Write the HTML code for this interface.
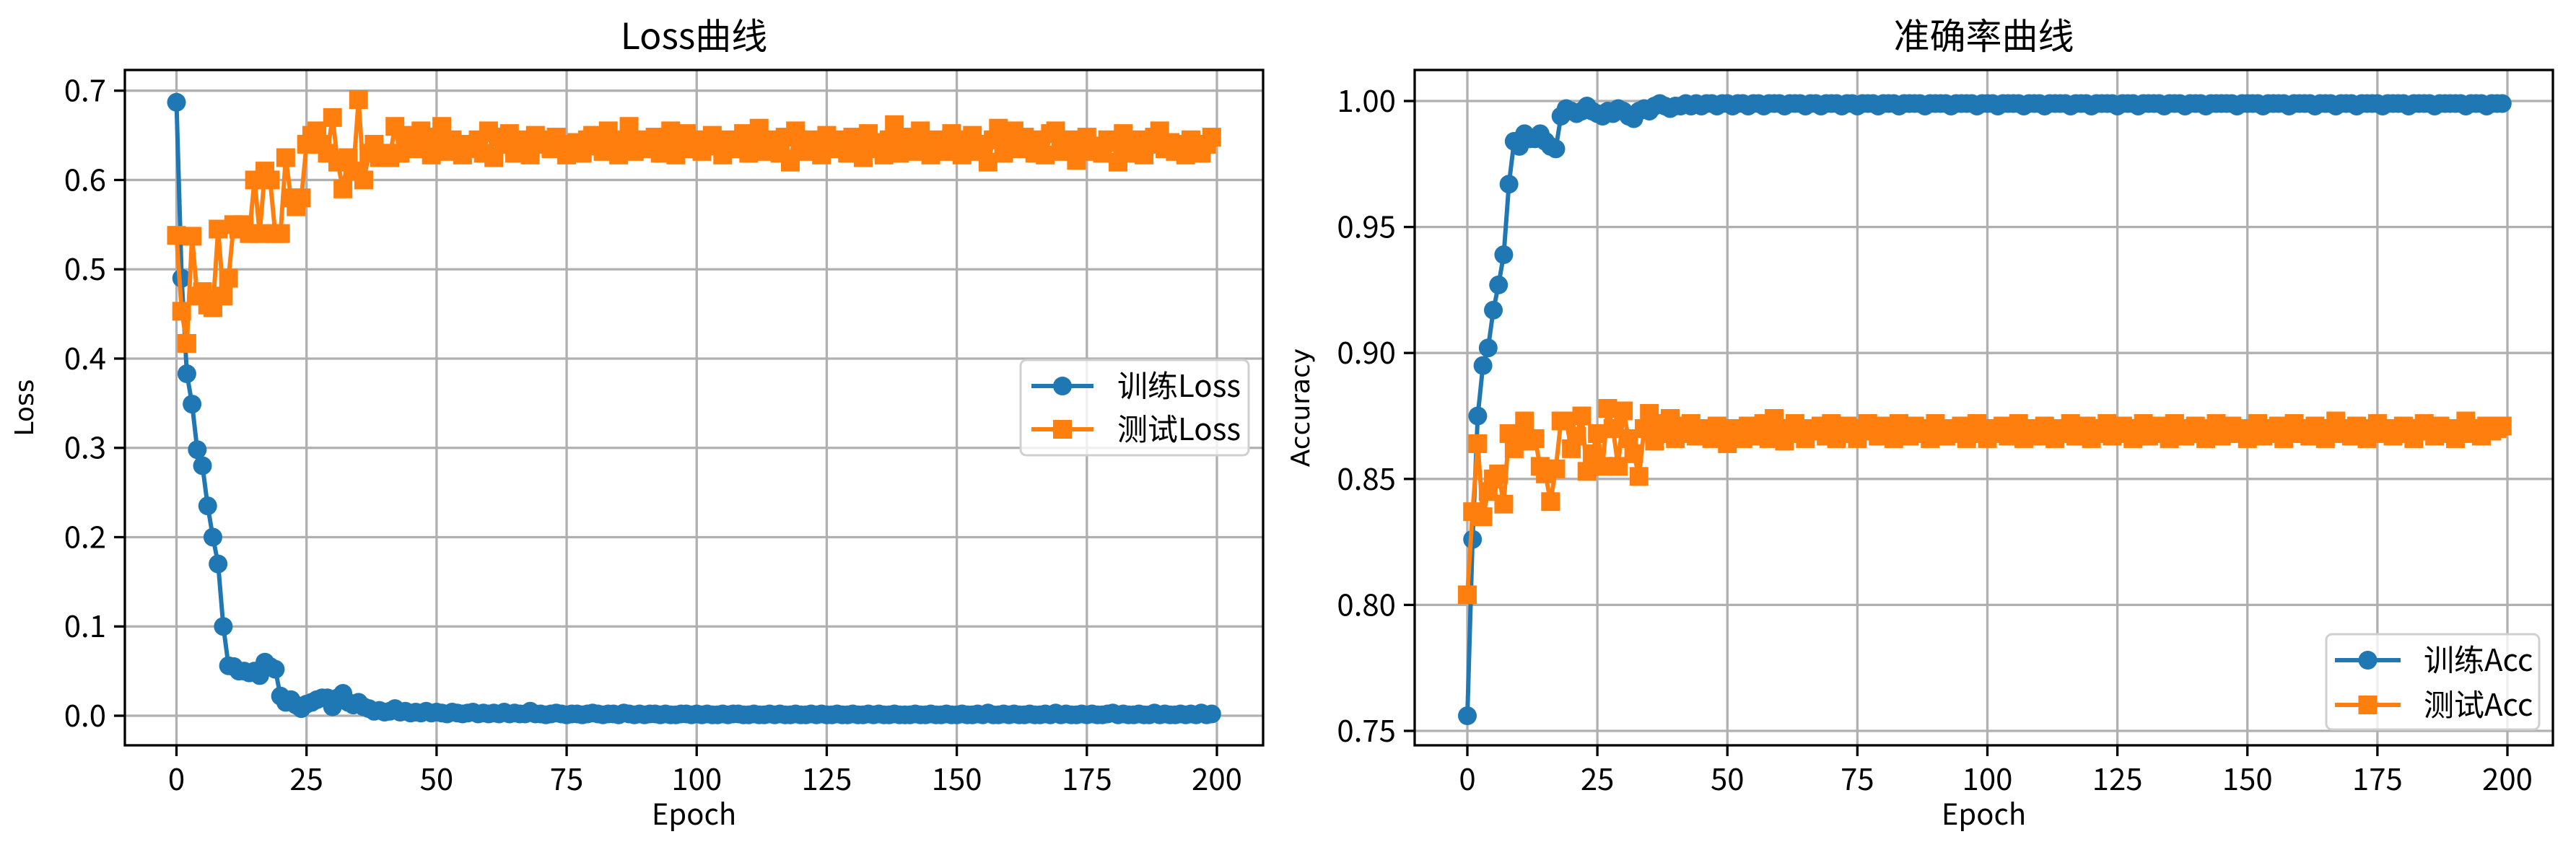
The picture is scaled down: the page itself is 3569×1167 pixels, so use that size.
<!DOCTYPE html>
<html><head><meta charset="utf-8"><style>
html,body{margin:0;padding:0;background:#fff;}
svg{display:block;font-family:"WenQuanYi Zen Hei","Noto Sans CJK SC","Liberation Sans",sans-serif;}
</style></head><body>
<svg id="fig" width="3569" height="1167" viewBox="0 0 3569 1167" xmlns="http://www.w3.org/2000/svg"></svg>
<script>
const epochs = Array.from({length:200},(_,i)=>i);
const trainLoss = [0.687,0.49,0.383,0.349,0.298,0.28,0.235,0.2,0.17,0.1,0.056,0.055,0.05,0.05,0.048,0.05,0.045,0.06,0.055,0.052,0.022,0.015,0.018,0.012,0.008,0.013,0.015,0.018,0.02,0.02,0.01,0.02,0.025,0.015,0.012,0.015,0.01,0.008,0.005,0.006,0.004,0.005,0.008,0.004,0.005,0.003,0.004,0.003,0.005,0.003,
0.004,0.003,0.002,0.004,0.003,0.002,0.003,0.004,0.002,0.003,0.002,0.003,0.002,0.004,0.002,0.003,0.002,0.002,0.005,0.002,0.002,0.001,0.002,0.003,0.002,0.001,0.002,0.002,0.001,0.002,0.003,0.002,0.001,0.002,0.002,0.001,0.003,0.002,0.001,0.002,0.001,0.002,0.002,0.001,0.002,0.001,0.001,0.002,0.002,0.001,
0.002,0.001,0.002,0.001,0.001,0.002,0.001,0.002,0.002,0.001,0.001,0.002,0.001,0.001,0.002,0.001,0.002,0.001,0.001,0.002,0.001,0.001,0.002,0.001,0.002,0.001,0.001,0.002,0.001,0.001,0.002,0.001,0.001,0.002,0.001,0.002,0.001,0.001,0.002,0.001,0.001,0.001,0.002,0.001,0.001,0.002,0.001,0.001,0.002,0.001,
0.001,0.002,0.001,0.001,0.002,0.001,0.003,0.001,0.001,0.002,0.001,0.002,0.001,0.001,0.002,0.001,0.001,0.002,0.001,0.003,0.001,0.002,0.001,0.001,0.002,0.001,0.002,0.001,0.001,0.002,0.003,0.001,0.002,0.001,0.001,0.002,0.001,0.001,0.003,0.001,0.002,0.001,0.001,0.002,0.001,0.002,0.001,0.003,0.001,0.002];
const testLoss = [0.538,0.453,0.417,0.537,0.47,0.475,0.46,0.457,0.545,0.47,0.49,0.55,0.545,0.55,0.54,0.6,0.54,0.61,0.6,0.54,0.54,0.625,0.58,0.57,0.58,0.64,0.65,0.655,0.64,0.63,0.67,0.62,0.59,0.625,0.61,0.69,0.6,0.63,0.64,0.625,0.63,0.625,0.66,0.63,0.65,0.645,0.635,0.655,0.64,0.628,
0.648,0.66,0.632,0.645,0.638,0.628,0.64,0.635,0.645,0.63,0.655,0.625,0.648,0.64,0.652,0.63,0.645,0.638,0.628,0.65,0.64,0.645,0.635,0.648,0.64,0.628,0.635,0.642,0.63,0.645,0.65,0.638,0.632,0.655,0.64,0.628,0.645,0.66,0.632,0.64,0.645,0.635,0.648,0.63,0.642,0.655,0.628,0.64,0.652,0.635,
0.645,0.632,0.64,0.65,0.638,0.628,0.645,0.64,0.635,0.652,0.63,0.645,0.658,0.632,0.64,0.645,0.63,0.648,0.62,0.655,0.64,0.632,0.645,0.638,0.628,0.65,0.642,0.635,0.645,0.63,0.648,0.64,0.625,0.652,0.635,0.642,0.628,0.645,0.662,0.63,0.648,0.64,0.632,0.655,0.638,0.628,0.645,0.64,0.632,0.652,
0.635,0.628,0.645,0.65,0.632,0.64,0.62,0.645,0.658,0.63,0.642,0.655,0.635,0.648,0.64,0.63,0.645,0.628,0.652,0.655,0.632,0.64,0.645,0.622,0.64,0.648,0.632,0.638,0.63,0.645,0.642,0.62,0.652,0.635,0.63,0.645,0.628,0.64,0.648,0.655,0.635,0.642,0.632,0.64,0.628,0.645,0.638,0.63,0.64,0.648];
const trainAcc = [0.756,0.826,0.875,0.895,0.902,0.917,0.927,0.939,0.967,0.984,0.982,0.987,0.985,0.985,0.987,0.984,0.982,0.981,0.994,0.997,0.996,0.995,0.996,0.998,0.996,0.995,0.994,0.996,0.995,0.997,0.996,0.994,0.993,0.996,0.997,0.996,0.998,0.999,0.998,0.997,0.998,0.998,0.999,0.998,0.999,0.998,0.999,0.999,0.998,0.999,
0.999,0.998,0.999,0.999,0.998,0.999,0.999,0.998,0.999,0.999,0.999,0.998,0.999,0.999,0.999,0.998,0.999,0.999,0.998,0.999,0.999,0.999,0.998,0.999,0.999,0.998,0.999,0.999,0.999,0.998,0.999,0.999,0.999,0.998,0.999,0.999,0.999,0.999,0.998,0.999,0.999,0.999,0.999,0.998,0.999,0.999,0.999,0.999,0.998,0.999,
0.999,0.999,0.998,0.999,0.999,0.999,0.999,0.998,0.999,0.999,0.999,0.998,0.999,0.999,0.999,0.999,0.998,0.999,0.999,0.999,0.998,0.999,0.999,0.999,0.999,0.998,0.999,0.999,0.999,0.998,0.999,0.999,0.999,0.999,0.998,0.999,0.999,0.999,0.998,0.999,0.999,0.999,0.998,0.999,0.999,0.999,0.999,0.999,0.998,0.999,
0.999,0.999,0.999,0.998,0.999,0.999,0.999,0.999,0.998,0.999,0.999,0.999,0.999,0.998,0.999,0.999,0.999,0.998,0.999,0.999,0.999,0.998,0.999,0.999,0.999,0.999,0.998,0.999,0.999,0.999,0.999,0.998,0.999,0.999,0.999,0.999,0.998,0.999,0.999,0.999,0.999,0.999,0.998,0.999,0.999,0.999,0.998,0.999,0.999,0.999];
const testAcc = [0.804,0.837,0.864,0.835,0.845,0.85,0.852,0.84,0.868,0.862,0.867,0.873,0.865,0.866,0.855,0.852,0.841,0.854,0.873,0.873,0.862,0.867,0.875,0.853,0.86,0.868,0.855,0.878,0.87,0.855,0.877,0.866,0.86,0.851,0.87,0.876,0.865,0.872,0.868,0.874,0.866,0.871,0.868,0.872,0.867,0.87,0.869,0.866,0.871,0.868,
0.864,0.87,0.868,0.866,0.871,0.869,0.867,0.872,0.866,0.874,0.868,0.865,0.87,0.872,0.868,0.866,0.87,0.869,0.871,0.867,0.872,0.866,0.869,0.871,0.868,0.866,0.87,0.872,0.869,0.867,0.871,0.868,0.866,0.872,0.869,0.867,0.871,0.868,0.87,0.866,0.872,0.869,0.867,0.87,0.868,0.871,0.866,0.869,0.872,0.868,
0.866,0.87,0.868,0.871,0.867,0.869,0.872,0.866,0.868,0.87,0.867,0.871,0.869,0.866,0.87,0.868,0.872,0.867,0.869,0.871,0.866,0.868,0.87,0.872,0.867,0.869,0.871,0.868,0.866,0.87,0.872,0.867,0.869,0.871,0.868,0.866,0.872,0.87,0.867,0.869,0.871,0.868,0.866,0.87,0.872,0.867,0.869,0.871,0.868,0.87,
0.866,0.869,0.872,0.867,0.87,0.868,0.871,0.866,0.869,0.872,0.868,0.87,0.867,0.871,0.869,0.866,0.87,0.873,0.868,0.87,0.867,0.871,0.869,0.866,0.87,0.872,0.868,0.87,0.867,0.869,0.871,0.868,0.866,0.87,0.872,0.869,0.867,0.871,0.868,0.87,0.866,0.869,0.873,0.868,0.87,0.867,0.871,0.869,0.87,0.871];
const lossTicksY = [0.0,0.1,0.2,0.3,0.4,0.5,0.6,0.7];
const accTicksY = [0.75,0.80,0.85,0.90,0.95,1.00];
const ticksX = [0,25,50,75,100,125,150,175,200];

const NS="http://www.w3.org/2000/svg";
const svg=document.getElementById('fig');
function mk(tag,attrs,parent){const e=document.createElementNS(NS,tag);for(const k in attrs)e.setAttribute(k,attrs[k]);(parent||svg).appendChild(e);return e;}
const BLUE="#1f77b4",ORANGE="#ff7f0e";

function panel(cfg){
  const g=mk('g',{});
  
  
  const {L,R,T,B}=cfg;
  const xs=v=>cfg.x0px+(v-0)*(cfg.x200px-cfg.x0px)/200;
  const ys=v=>cfg.ya.px+(v-cfg.ya.v)*(cfg.yb.px-cfg.ya.px)/(cfg.yb.v-cfg.ya.v);
  const clip=mk('clipPath',{id:cfg.name+'-clip'},g);
  mk('rect',{x:L,y:T,width:R-L,height:B-T},clip);
  // grid
  ticksX.forEach(t=>{const l=mk('line',{x1:xs(t),x2:xs(t),y1:T,y2:B,stroke:'#b0b0b0','stroke-width':3.3},g);
    });
  cfg.ticksY.forEach(t=>{const l=mk('line',{x1:L,x2:R,y1:ys(t),y2:ys(t),stroke:'#b0b0b0','stroke-width':3.3},g);
    });
  // series
  const sg=mk('g',{'clip-path':`url(#${cfg.name}-clip)`},g);
  cfg.series.forEach(s=>{
    const grp=mk('g',{},sg);
    
    
    const pts=epochs.map((e,i)=>xs(e).toFixed(1)+','+ys(s.data[i]).toFixed(1)).join(' ');
    mk('polyline',{points:pts,fill:'none',stroke:s.color,'stroke-width':6,'stroke-linejoin':'round'},grp);
    epochs.forEach((e,i)=>{
      let m;
      if(s.marker==='o') m=mk('circle',{cx:xs(e),cy:ys(s.data[i]),r:13,fill:s.color},grp);
      else m=mk('rect',{x:xs(e)-13,y:ys(s.data[i])-13,width:26,height:26,fill:s.color},grp);
      
      
    });
  });
  // frame
  const fr=mk('rect',{x:L,y:T,width:R-L,height:B-T,fill:'none',stroke:'#000','stroke-width':3.3},g);
  
  // ticks
  ticksX.forEach(t=>{
    mk('line',{x1:xs(t),x2:xs(t),y1:B,y2:B+15,stroke:'#000','stroke-width':3.3},g);
    const tx=mk('text',{x:xs(t),y:B+62,'text-anchor':'middle','font-size':42,fill:'#000'},g);
    tx.textContent=String(t);
    
  });
  cfg.ticksY.forEach(t=>{
    mk('line',{x1:L-15,x2:L,y1:ys(t),y2:ys(t),stroke:'#000','stroke-width':3.3},g);
    const tx=mk('text',{x:L-26,y:ys(t)+15,'text-anchor':'end','font-size':42,fill:'#000'},g);
    tx.textContent=t.toFixed(cfg.dec);
    
  });
  const title=mk('text',{x:(L+R)/2,y:68,'text-anchor':'middle','font-size':50,fill:'#000'},g);
  title.textContent=cfg.title;
  
  const xl=mk('text',{x:(L+R)/2,y:1143,'text-anchor':'middle','font-size':40,fill:'#000'},g);
  xl.textContent='Epoch';
  
  const yl=mk('text',{x:cfg.ylx,y:(T+B)/2,'text-anchor':'middle','font-size':36,fill:'#000','font-family':'DejaVu Sans, sans-serif',transform:`rotate(-90 ${cfg.ylx} ${(T+B)/2})`},g);
  yl.textContent=cfg.ylabel;
  
  // legend
  const lg=cfg.legend;
  const leg=mk('g',{},g);
  
  mk('rect',{x:lg.x,y:lg.y,width:lg.w,height:lg.h,rx:8,fill:'#fff','fill-opacity':0.8,stroke:'#d0d0d0','stroke-width':3},leg);
  cfg.series.forEach((s,i)=>{
    const ry=lg.rows[i];
    const ent=mk('g',{},leg);
    
    mk('line',{x1:lg.lx1,x2:lg.lx2,y1:ry,y2:ry,stroke:s.color,'stroke-width':6},ent);
    const cx=(lg.lx1+lg.lx2)/2;
    if(s.marker==='o') mk('circle',{cx:cx,cy:ry,r:13,fill:s.color},ent);
    else mk('rect',{x:cx-13,y:ry-13,width:26,height:26,fill:s.color},ent);
    const t=mk('text',{x:lg.tx,y:ry+15,'font-size':42,fill:'#000'},ent);
    t.textContent=s.label;
  });
}

panel({name:'loss-chart',L:173,R:1750,T:97,B:1033,x0px:244.5,x200px:1686,
  ya:{v:0,px:992},yb:{v:0.7,px:125.7},ticksY:lossTicksY,dec:1,
  title:'Loss曲线',ylabel:'Loss',ylx:46,
  series:[{name:'train-loss-series',label:'训练Loss',data:trainLoss,color:BLUE,marker:'o'},
          {name:'test-loss-series',label:'测试Loss',data:testLoss,color:ORANGE,marker:'s'}],
  legend:{x:1414,y:499,w:316,h:132,rows:[535,595],lx1:1429,lx2:1515,tx:1548}});
panel({name:'accuracy-chart',L:1960,R:3537,T:97,B:1033,x0px:2033,x200px:3474,
  ya:{v:0.75,px:1013},yb:{v:1.0,px:140},ticksY:accTicksY,dec:2,
  title:'准确率曲线',ylabel:'Accuracy',ylx:1814,
  series:[{name:'train-acc-series',label:'训练Acc',data:trainAcc,color:BLUE,marker:'o'},
          {name:'test-acc-series',label:'测试Acc',data:testAcc,color:ORANGE,marker:'s'}],
  legend:{x:3223,y:879,w:295,h:132,rows:[915,977],lx1:3235,lx2:3326,tx:3358}});
</script>
</body></html>
